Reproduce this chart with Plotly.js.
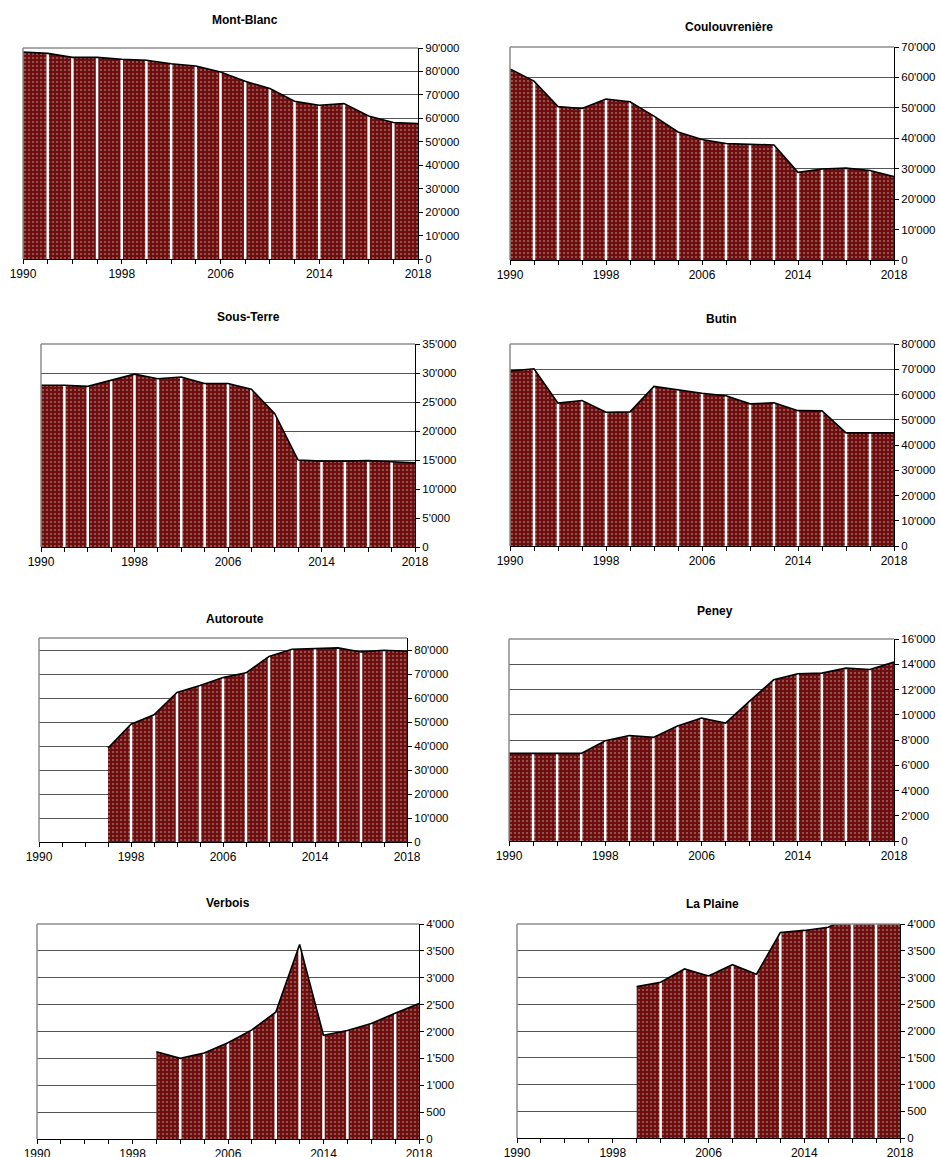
<!DOCTYPE html>
<html>
<head>
<meta charset="utf-8">
<script src="https://cdn.plot.ly/plotly-3.0.1.min.js"></script>
<style>
  html, body { margin: 0; padding: 0; background: #ffffff; }
  #chart { width: 940px; height: 1157px; }
</style>
</head>
<body>
<div id="chart"></div>
<script>
// ---- Data ----
const years = ['1990','1992','1994','1996','1998','2000','2002','2004','2006','2008','2010','2012','2014','2015','2016','2017','2018'];
const tickLabels = ['1990','','','','1998','','','','2006','','','','2014','','','','2018'];

const titles = ['Mont-Blanc', 'Coulouvrenière', 'Sous-Terre', 'Butin', 'Autoroute', 'Peney', 'Verbois', 'La Plaine'];

const montBlanc      = [88300, 87700, 86000, 86000, 85200, 84800, 83300, 82300, 79800, 75800, 72700, 67300, 65600, 66300, 61000, 58200, 57800];
const coulouvreniere = [62800, 58800, 50400, 49800, 52900, 52000, 47300, 42100, 39600, 38300, 38000, 37800, 28800, 29900, 30200, 29400, 27400];
const sousTerre      = [27900, 27900, 27700, 28700, 29800, 29000, 29300, 28200, 28200, 27200, 23000, 15000, 14800, 14800, 14900, 14700, 14500];
const butin          = [69300, 70200, 56600, 57600, 53000, 53100, 63200, 61900, 60500, 59500, 56300, 56700, 53600, 53500, 44800, 44800, 44800];
const autoroute      = [null, null, null, 39100, 49100, 53000, 62300, 65200, 68500, 70500, 77300, 80300, 80600, 80900, 79200, 79900, 79500];
const peney          = [6940, 6940, 6940, 6940, 7940, 8360, 8210, 9100, 9740, 9340, 11080, 12770, 13250, 13300, 13690, 13590, 14170];
const verbois        = [null, null, null, null, null, 1625, 1500, 1600, 1790, 2030, 2360, 3620, 1930, 2020, 2150, 2340, 2520];
const laPlaine       = [null, null, null, null, null, 2830, 2910, 3160, 3030, 3240, 3060, 3840, 3880, 3940, 4150, 4250, 4350];

const seriesList = [montBlanc, coulouvreniere, sousTerre, butin, autoroute, peney, verbois, laPlaine];
const yMax  = [90000, 70000, 35000, 80000, 85000, 16000, 4000, 4000];
const yStep = [10000, 10000, 5000, 10000, 10000, 2000, 500, 500];

// ---- Layout geometry (pixels) ----
const W = 940, H = 1157;
const boxes = [
  {l: 23,  r: 418, t: 48,  b: 259, tx: 245, ty: 20},
  {l: 510, r: 894, t: 47,  b: 260, tx: 729, ty: 27},
  {l: 41,  r: 415, t: 344, b: 547, tx: 248, ty: 317},
  {l: 510, r: 894, t: 344, b: 546, tx: 721, ty: 319},
  {l: 39,  r: 407, t: 638, b: 842, tx: 235, ty: 619},
  {l: 509, r: 894, t: 639, b: 841, tx: 715, ty: 611},
  {l: 37,  r: 419, t: 924, b: 1139, tx: 228, ty: 903},
  {l: 517, r: 900, t: 924, b: 1138, tx: 712, ty: 904}
];

const FONT = '"Liberation Sans", Arial, sans-serif';
const FILL = '#6e0f0f';

const traces = [];
const layout = {
  width: W, height: H,
  margin: {l: 0, r: 0, t: 0, b: 0},
  paper_bgcolor: '#ffffff',
  plot_bgcolor: '#ffffff',
  showlegend: false,
  separators: ".'",
  font: {family: FONT, color: '#000000'},
  annotations: [],
  shapes: []
};

seriesList.forEach((vals, i) => {
  const n = i + 1;
  const xa = 'x' + (n === 1 ? '' : n);
  const ya = 'y' + (n === 1 ? '' : n);
  const xKey = 'xaxis' + (n === 1 ? '' : n);
  const yKey = 'yaxis' + (n === 1 ? '' : n);
  const bx = boxes[i];

  // filled area with dotted pattern
  traces.push({
    type: 'scatter', mode: 'lines', x: years, y: vals,
    xaxis: xa, yaxis: ya,
    fill: 'tozeroy',
    fillcolor: FILL,
    fillpattern: {shape: '.', bgcolor: FILL, fgcolor: '#ffffff', fgopacity: 0.75, size: 4, solidity: 0.09},
    line: {width: 0, color: FILL},
    hoverinfo: 'skip'
  });

  // white separators at each interior data point
  const first = vals.findIndex(v => v !== null);
  const dx = [], dy = [];
  for (let k = first + 1; k < years.length - 1; k++) {
    dx.push(years[k], years[k], null);
    dy.push(0, vals[k], null);
  }
  traces.push({
    type: 'scatter', mode: 'lines', x: dx, y: dy,
    xaxis: xa, yaxis: ya,
    line: {color: '#ffffff', width: 2.5},
    connectgaps: false,
    hoverinfo: 'skip'
  });

  // black top outline
  traces.push({
    type: 'scatter', mode: 'lines', x: years, y: vals,
    xaxis: xa, yaxis: ya,
    line: {color: '#000000', width: 1.6},
    hoverinfo: 'skip'
  });

  layout[xKey] = {
    domain: [bx.l / W, bx.r / W],
    anchor: ya,
    type: 'category',
    categoryorder: 'array', categoryarray: years,
    range: [0, years.length - 1],
    autorange: false,
    tickmode: 'array', tickvals: years, ticktext: tickLabels,
    ticks: 'outside', ticklen: 4, tickcolor: '#000000', tickwidth: 1,
    showline: true, linecolor: '#000000', linewidth: 1,
    showgrid: false, zeroline: false,
    tickfont: {family: FONT, size: 12, color: '#000000'},
    fixedrange: true
  };
  layout[yKey] = {
    domain: [1 - bx.b / H, 1 - bx.t / H],
    anchor: xa,
    side: 'right',
    range: [0, yMax[i]],
    autorange: false,
    tickmode: 'linear', tick0: 0, dtick: yStep[i],
    tickformat: ',d', separatethousands: true,
    ticks: 'outside', ticklen: 4, tickcolor: '#000000', tickwidth: 1,
    showline: true, linecolor: '#000000', linewidth: 1,
    showgrid: true, gridcolor: '#555555', gridwidth: 1,
    zeroline: false,
    tickfont: {family: FONT, size: 11.5, color: '#000000'},
    fixedrange: true
  };

  // gray frame top & left
  layout.shapes.push({
    type: 'line', xref: xa + ' domain', yref: ya + ' domain',
    x0: 0, x1: 1, y0: 1, y1: 1,
    line: {color: '#8c8c8c', width: 1.5}, layer: 'above'
  });
  layout.shapes.push({
    type: 'line', xref: xa + ' domain', yref: ya + ' domain',
    x0: 0, x1: 0, y0: 0, y1: 1,
    line: {color: '#8c8c8c', width: 1.5}, layer: 'above'
  });

  // panel title
  layout.annotations.push({
    text: '<b>' + titles[i] + '</b>',
    xref: 'paper', yref: 'paper',
    x: bx.tx / W, y: 1 - bx.ty / H,
    xanchor: 'center', yanchor: 'middle',
    showarrow: false,
    font: {family: FONT, size: 12, color: '#000000'}
  });
});

Plotly.newPlot('chart', traces, layout, {staticPlot: true, displayModeBar: false});
</script>
</body>
</html>
